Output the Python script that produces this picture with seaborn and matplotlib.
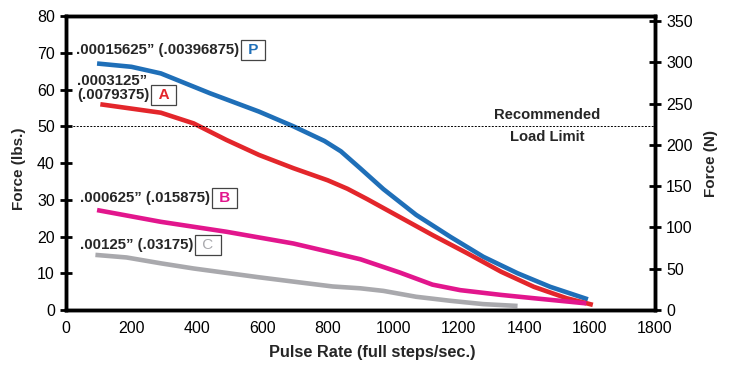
import numpy as np
import pandas as pd
import matplotlib
matplotlib.use("Agg")
import matplotlib.pyplot as plt
import seaborn as sns

# pulse rate (full steps/sec) vs force (lbs)
p_rate = [95, 200, 290, 440, 590, 695, 790, 840, 900, 970, 1070, 1175, 1275, 1380, 1480, 1595]
p_force = [67.1, 66.2, 64.4, 59, 54, 50, 46, 43.2, 38.5, 32.9, 25.9, 19.9, 14.5, 10, 6.3, 2.9]

a_rate = [105, 290, 390, 490, 590, 695, 800, 860, 920, 1020, 1120, 1225, 1330, 1430, 1530, 1610]
a_force = [56, 53.7, 50.8, 46.3, 42.2, 38.6, 35.3, 33, 30.2, 25.3, 20.4, 15.5, 10.4, 6.3, 3.2, 1.4]

b_rate = [95, 290, 490, 695, 815, 900, 1020, 1120, 1205, 1330, 1430, 1590]
b_force = [27.2, 24, 21.3, 18.1, 15.6, 13.8, 10.2, 6.9, 5.4, 4.1, 3.2, 1.8]

c_rate = [90, 185, 290, 390, 590, 715, 815, 900, 970, 1070, 1175, 1275, 1380]
c_force = [15, 14.3, 12.7, 11.3, 8.9, 7.5, 6.4, 5.9, 5.2, 3.6, 2.5, 1.6, 1.1]

labels = ['.00015625\u201d (.00396875)', '.0003125\u201d\n(.0079375)', '.000625\u201d (.015875)', '.00125\u201d (.03175)']
letters = ['P', 'A', 'B', 'C']
colors = ['#1f6fb8', '#e3262b', '#e2168d', '#a9a9ad']
label_pos = [(30, 70.7), (35, 60.3), (42, 30.5), (42, 17.7)]

sns.set_style("white")
plt.rcParams['font.family'] = ['Liberation Sans', 'DejaVu Sans']

fig = plt.figure(figsize=(7.29, 3.72), dpi=100)
ax = fig.add_axes([0.0905, 0.1667, 0.808, 0.79])

series = [(p_rate, p_force), (a_rate, a_force), (b_rate, b_force), (c_rate, c_force)]
for (xs, ys), col in zip(series, colors):
    sns.lineplot(x=xs, y=ys, ax=ax, color=col, linewidth=3.3, solid_capstyle='butt',
                 solid_joinstyle='round')

ax.axhline(50, color='black', linestyle=(0, (2, 1.5)), linewidth=0.7)
ax.text(1470, 53.1, 'Recommended', ha='center', va='center', fontsize=10.6, fontweight='bold')
ax.text(1470, 47.2, 'Load Limit', ha='center', va='center', fontsize=10.6, fontweight='bold')

for lab, let, col, (tx, ty) in zip(labels, letters, colors, label_pos):
    t = ax.text(tx, ty, lab, ha='left', va='center', fontsize=10.8, fontweight='bold', linespacing=1.0)
    yfrac = 0.27 if '\n' in lab else 0.5
    ax.annotate(' ' + let + ' ', xy=(1, yfrac), xycoords=t, xytext=(3.5, 0), textcoords='offset points',
                ha='left', va='center', fontsize=11, color=col,
                fontweight='bold' if let != 'C' else 'normal',
                bbox=dict(boxstyle='square,pad=0.2', fc='white', ec='#444444', lw=0.9))

ax.set_xlim(0, 1800)
ax.set_ylim(0, 80)
ax.set_xticks(range(0, 1801, 200))
ax.set_yticks(range(0, 81, 10))
ax.set_xlabel('Pulse Rate (full steps/sec.)', fontsize=11.8, fontweight='bold')
ax.set_ylabel('Force (lbs.)', fontsize=11, fontweight='bold')
ax.xaxis.set_label_coords(0.52, -0.12)
ax.yaxis.set_label_coords(-0.068, 0.48)
ax.tick_params(direction='inout', length=9, width=2, labelsize=11.5, colors='black')

ax2 = ax.twinx()
ax2.set_ylim(0, 80 * 4.448)
ax2.set_yticks(range(0, 351, 50))
ax2.set_ylabel('Force (N)', fontsize=11, fontweight='bold')
ax2.yaxis.set_label_coords(1.083, 0.5)
ax2.tick_params(direction='inout', length=9, width=2, labelsize=11.5, colors='black')

for a in (ax, ax2):
    for s in a.spines.values():
        s.set_visible(True)
        s.set_color('black')
        s.set_linewidth(2.5)

plt.savefig('out.png', dpi=100)
